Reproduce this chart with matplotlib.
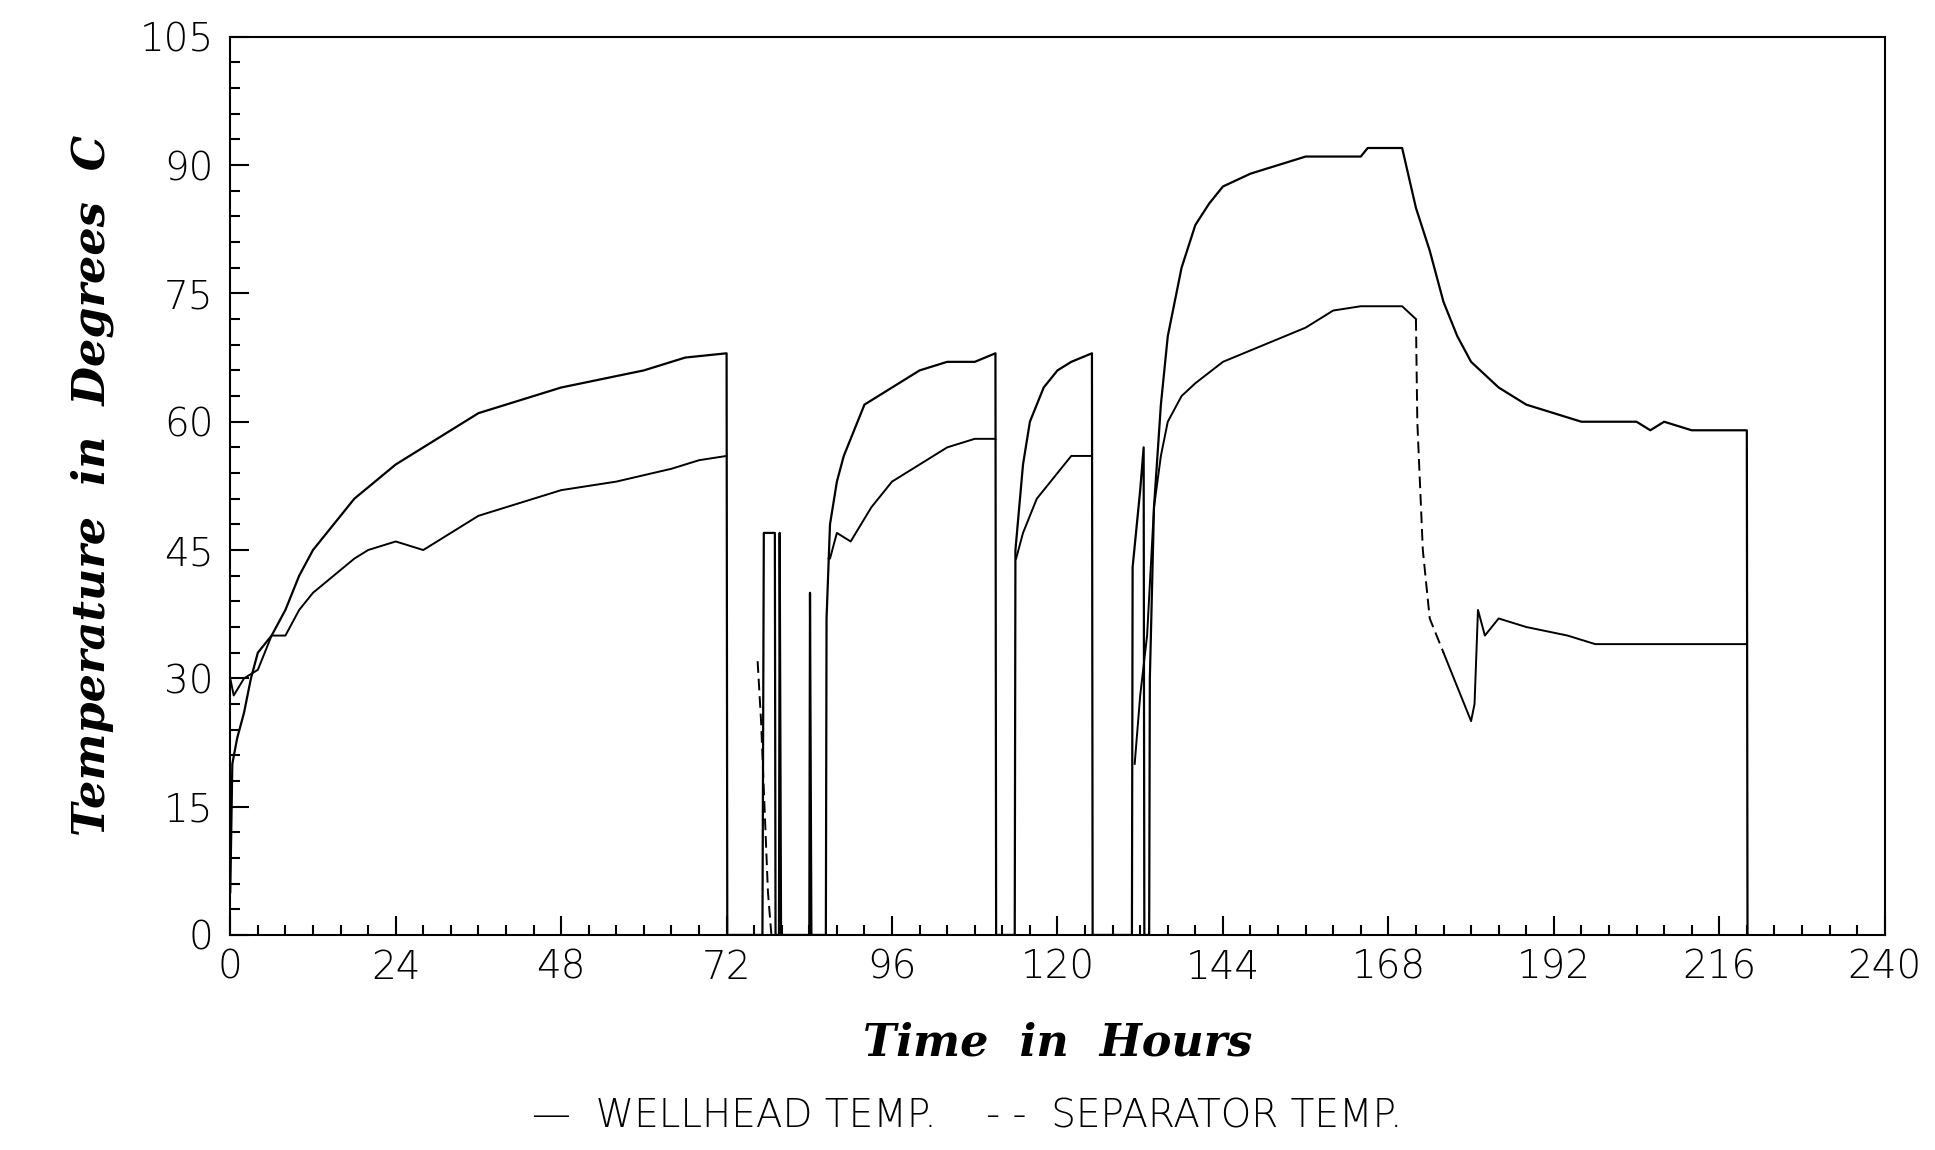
import numpy as np
import matplotlib.pyplot as plt

nan = np.nan

# wellhead temperature (solid), segments separated by drops to 0
wh_t = [0, 0.3, 1, 2, 3, 4, 6, 8, 10, 12, 15, 18, 21, 24, 28, 32, 36, 40, 44, 48, 54, 60, 66, 72, 72.1,
        77.2, 77.4, 79, 79.1, 79.6, 79.7, 79.9, 84, 84.1, 84.3, 84.4, 86.4, 86.5, 87, 88, 89, 90, 92, 94, 96, 100, 104, 108, 111, 111.1,
        113.8, 113.9, 115, 116, 118, 120, 122, 125, 125.1,
        130.8, 130.9, 132, 132.5, 132.6, 133.3, 133.4, 134, 135, 136, 138, 140, 142, 144, 148, 152, 156, 164, 165, 170, 172, 174, 176, 178, 180, 184, 188, 192, 196, 204, 206, 208, 212, 220, 220.1]
wh_v = [5, 20, 23, 26, 30, 33, 35, 38, 42, 45, 48, 51, 53, 55, 57, 59, 61, 62, 63, 64, 65, 66, 67.5, 68, 0,
        0, 47, 47, 0, 0, 47, 0, 0, 40, 0, 0, 0, 37, 48, 53, 56, 58, 62, 63, 64, 66, 67, 67, 68, 0,
        0, 45, 55, 60, 64, 66, 67, 68, 0,
        0, 43, 52, 57, 0, 0, 30, 50, 62, 70, 78, 83, 85.5, 87.5, 89, 90, 91, 91, 92, 92, 85, 80, 74, 70, 67, 64, 62, 61, 60, 60, 59, 60, 59, 59, 0]

# separator temperature, solid-looking parts
sp_t = [0, 0.5, 2, 4, 5, 6, 8, 10, 12, 15, 18, 20, 24, 28, 32, 36, 40, 48, 56, 64, 68, 72, nan,
        86.8, 87, 88, 90, 93, 96, 100, 104, 108, 111, nan,
        114, 115, 117, 120, 122, 125, nan,
        131.2, 132, 133, 134, 135, 136, 138, 140, 144, 150, 156, 160, 164, 170, 172, nan,
        176, 178, 180, 180.5, 181, 182, 184, 188, 194, 198, 220]
sp_v = [30, 28, 30, 31, 33, 35, 35, 38, 40, 42, 44, 45, 46, 45, 47, 49, 50, 52, 53, 54.5, 55.5, 56, nan,
        44, 44, 47, 46, 50, 53, 55, 57, 58, 58, nan,
        44, 47, 51, 54, 56, 56, nan,
        20, 28, 35, 50, 56, 60, 63, 64.5, 67, 69, 71, 73, 73.5, 73.5, 72, nan,
        33, 29, 25, 27, 38, 35, 37, 36, 35, 34, 34]

# separator temperature, dashed parts
spd_t = [76.5, 77, 78, 78.5, nan, 172, 172.2, 173, 174, 176]
spd_v = [32, 25, 5, 0, nan, 72, 60, 45, 37, 33]

fig = plt.figure(figsize=(19.35, 11.5), dpi=100)
ax = fig.add_axes([0.119, 0.187, 0.855, 0.781])
ax.plot(wh_t, wh_v, color='black', lw=1.6)
ax.plot(sp_t, sp_v, color='black', lw=1.4)
ax.plot(spd_t, spd_v, color='black', lw=1.4, ls=(0, (6, 3)))

ax.set_xlim(0, 240)
ax.set_ylim(0, 105)
ax.set_xticks(np.arange(0, 241, 24))
ax.set_yticks(np.arange(0, 106, 15))
ax.set_xticks(np.arange(0, 241, 4), minor=True)
ax.set_yticks(np.arange(0, 106, 3), minor=True)
ax.tick_params(which='both', direction='in', labelsize=28, width=1.5)
ax.tick_params(which='major', length=14)
ax.tick_params(which='minor', length=7)
ax.tick_params(axis='x', pad=10)
ax.tick_params(axis='y', pad=12)
for lbl in ax.get_xticklabels() + ax.get_yticklabels():
    lbl.set_fontweight('light')
for s in ax.spines.values():
    s.set_linewidth(1.5)

ax.set_xlabel('Time  in  Hours', fontsize=32, family='DejaVu Serif', style='italic',
              fontweight='bold', labelpad=25)
ax.set_ylabel('Temperature  in  Degrees  C', fontsize=32, family='DejaVu Serif',
              style='italic', fontweight='bold', labelpad=18)

fig.text(0.5, 0.02, '\u2014  WELLHEAD TEMP.    - -  SEPARATOR TEMP.', ha='center',
         fontsize=28, fontweight='light')

fig.savefig('out.png', dpi=100)
